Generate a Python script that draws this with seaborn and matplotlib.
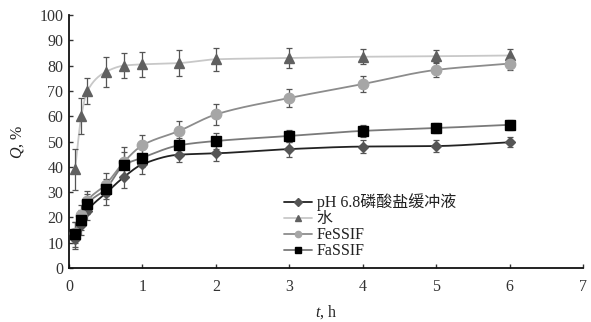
import numpy as np
import pandas as pd
import matplotlib
matplotlib.use("Agg")
import matplotlib.pyplot as plt
import seaborn as sns

# Sampling times (h)
t = [0.083, 0.167, 0.25, 0.5, 0.75, 1, 1.5, 2, 3, 4, 5, 6]

# Cumulative dissolution Q (%) and standard deviations
ph68 = [11.5, 17.0, 22.5, 29.5, 36.0, 41.0, 44.8, 45.3, 47.0, 48.0, 48.2, 49.7]
ph68_sd = [4, 4, 3.5, 4.5, 4.5, 4, 3, 3, 3, 2.5, 2.5, 2]
water = [39.0, 60.0, 70.0, 77.5, 80.0, 80.5, 81.0, 82.5, 83.0, 83.5, 83.7, 84.0]
water_sd = [8, 7, 5, 6, 5, 5, 5, 4.5, 4, 3, 2.5, 2.5]
fessif = [14.0, 21.0, 26.5, 33.0, 42.0, 48.5, 54.2, 60.7, 67.2, 72.7, 78.3, 80.8]
fessif_sd = [4, 4, 4, 4.5, 6, 4, 4, 4, 3.5, 3, 3, 2.5]
fassif = [13.3, 19.0, 25.2, 31.2, 40.7, 43.6, 48.5, 50.2, 52.2, 54.2, 55.3, 56.6]
fassif_sd = [5, 4, 4, 4, 5, 3.5, 3, 3, 2.5, 2.5, 2, 2]

labels = ["pH 6.8磷酸盐缓冲液", "水", "FeSSIF", "FaSSIF"]
x_ticks = [0, 1, 2, 3, 4, 5, 6, 7]
y_ticks = list(range(0, 101, 10))


def pchip(x, y, xn):
    """Monotone piecewise cubic Hermite interpolation."""
    x = np.asarray(x, float)
    y = np.asarray(y, float)
    h = np.diff(x)
    d = np.diff(y) / h
    n = len(x)
    m = np.zeros(n)
    for k in range(1, n - 1):
        if d[k - 1] * d[k] > 0:
            w1 = 2 * h[k] + h[k - 1]
            w2 = h[k] + 2 * h[k - 1]
            m[k] = (w1 + w2) / (w1 / d[k - 1] + w2 / d[k])
    m[0] = d[0]
    m[-1] = d[-1]
    idx = np.clip(np.searchsorted(x, xn) - 1, 0, n - 2)
    hh = h[idx]
    s = (xn - x[idx]) / hh
    h00 = 2 * s**3 - 3 * s**2 + 1
    h10 = s**3 - 2 * s**2 + s
    h01 = -2 * s**3 + 3 * s**2
    h11 = s**3 - s**2
    return h00 * y[idx] + h10 * hh * m[idx] + h01 * y[idx + 1] + h11 * hh * m[idx + 1]


sns.set_theme(style="ticks")
plt.rcParams["font.family"] = ["Liberation Serif", "Noto Sans CJK SC"]
plt.rcParams["mathtext.fontset"] = "custom"
plt.rcParams["mathtext.it"] = "Liberation Serif:italic"
plt.rcParams["mathtext.rm"] = "Liberation Serif"

fig = plt.figure(figsize=(5.91, 3.22), dpi=100)
ax = fig.add_axes([0.1168, 0.1677, 0.8697, 0.7857])

series = [
    (ph68, ph68_sd, "#222222", "#555555", "D", 5.0),
    (water, water_sd, "#c8c8c8", "#606060", "^", 7.5),
    (fessif, fessif_sd, "#8c8c8c", "#a6a6a6", "o", 7.5),
    (fassif, fassif_sd, "#7a7a7a", "#000000", "s", 7.0),
]

tt = np.linspace(t[0], t[-1], 400)
frames = []
for lab, (vals, sd, lc, mc, mk, ms) in zip(labels, series):
    frames.append(pd.DataFrame({"t": t, "Q": vals, "sd": sd, "series": lab}))
data = pd.concat(frames, ignore_index=True)

handles = []
for lab, (vals, sd, lc, mc, mk, ms) in zip(labels, series):
    sub = data[data["series"] == lab]
    smooth = pd.DataFrame({"t": tt, "Q": pchip(sub["t"], sub["Q"], tt)})
    sns.lineplot(data=smooth, x="t", y="Q", ax=ax, color=lc, lw=1.3,
                 legend=False, zorder=2)
    ax.errorbar(sub["t"], sub["Q"], yerr=sub["sd"], fmt="none",
                ecolor="#555555", elinewidth=0.9, capsize=2.5,
                capthick=0.9, zorder=3)
    ax.plot(sub["t"], sub["Q"], ls="none", marker=mk, ms=ms, color=mc,
            mec=mc, zorder=4)
    h, = ax.plot([], [], color=lc, lw=1.3, marker=mk, ms=4.5, mfc=mc, mec=mc)
    handles.append(h)

ax.set_xlim(0, 7)
ax.set_ylim(0, 100)
ax.set_xticks(x_ticks)
ax.set_yticks(y_ticks)
ax.tick_params(direction="in", length=3, width=1, labelsize=11.5,
               colors="#333333", labelcolor="#333333", pad=4)
ax.tick_params(axis="x", pad=8)
for side in ("top", "right"):
    ax.spines[side].set_visible(False)
for side in ("left", "bottom"):
    ax.spines[side].set_linewidth(1.3)
    ax.spines[side].set_color("#111111")

ax.set_xlabel("$t$, h", fontsize=11.5, color="#222222", labelpad=6)
ax.set_ylabel("$Q$, %", fontsize=11.5, color="#222222", labelpad=10)

leg = ax.legend(handles, labels, loc="lower left", bbox_to_anchor=(0.418, 0.035),
                frameon=False, fontsize=11.5, handlelength=1.75,
                handletextpad=0.3, labelspacing=0.0, borderpad=0.0,
                borderaxespad=0.0)
for txt in leg.get_texts():
    txt.set_color("#222222")

fig.savefig("out.png", dpi=100)
